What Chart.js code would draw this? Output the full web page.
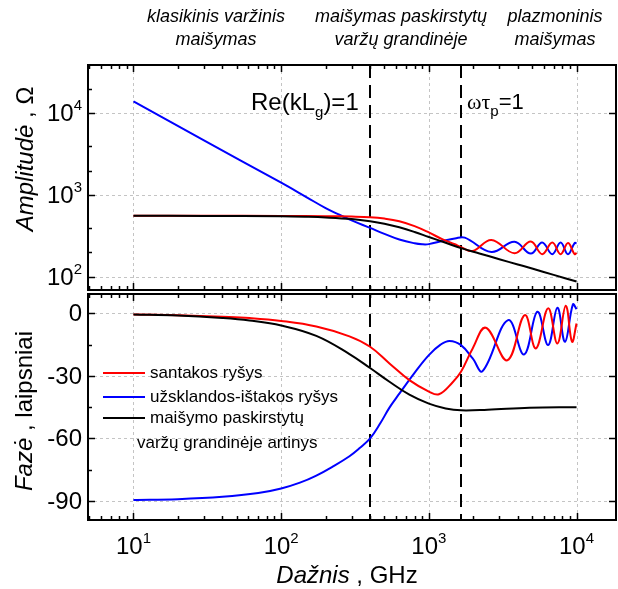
<!DOCTYPE html>
<html>
<head>
<meta charset="utf-8">
<script src="https://cdn.jsdelivr.net/npm/chart.js@4.4.0/dist/chart.umd.min.js"></script>
<style>
html, body { margin: 0; padding: 0; background: #fff; }
#wrap { position: relative; width: 618px; height: 589px; overflow: hidden; font-family: 'Liberation Sans', Arial, sans-serif; color: #000; }
canvas { position: absolute; left: 0; }
.t { position: absolute; white-space: nowrap; }
.hdr { position: absolute; width: 220px; text-align: center; font-size: 18px; line-height: 23px; font-style: italic; }
.sub { font-size: 15px; position: relative; top: 7px; }
.leg { position: absolute; font-size: 17px; line-height: 20px; white-space: nowrap; }
.legline { position: absolute; width: 42px; height: 0; border-top: 2px solid; }
.ytitle { position: absolute; font-size: 24px; white-space: nowrap; transform: translate(-50%, -50%) rotate(-90deg); }
</style>
</head>
<body>
<div id="wrap">
  <canvas id="amp" width="618" height="292" style="top:0"></canvas>
  <canvas id="faze" width="618" height="297" style="top:292px"></canvas>

  <div class="hdr" style="left:106px; top:5px">klasikinis varžinis<br>maišymas</div>
  <div class="hdr" style="left:291px; top:5px">maišymas paskirstytų<br>varžų grandinėje</div>
  <div class="hdr" style="left:445px; top:5px">plazmoninis<br>maišymas</div>

  <div class="t" style="left:251px; top:88px; font-size:24px">Re(kL<span class="sub">g</span>)=1</div>
  <div class="t" style="left:467px; top:89px; font-size:22px"><span style="font-family:'Liberation Serif',serif">ωτ</span><span class="sub">p</span>=1</div>

  <div class="ytitle" style="left:25px; top:159px"><i>Amplitudė</i> , Ω</div>
  <div class="ytitle" style="left:24px; top:411px"><i>Fazė</i> , laipsniai</div>
  <div class="t" style="left:347px; top:575px; font-size:24px; transform:translate(-50%,-50%)"><i>Dažnis</i> , GHz</div>

  <div class="legline" style="left:103px; top:372px; border-color:#ff0000"></div>
  <div class="leg" style="left:150px; top:363px">santakos ryšys</div>
  <div class="legline" style="left:103px; top:396px; border-color:#0000ff"></div>
  <div class="leg" style="left:150px; top:387px">užsklandos-ištakos ryšys</div>
  <div class="legline" style="left:103px; top:417px; border-color:#000"></div>
  <div class="leg" style="left:150px; top:408px">maišymo paskirstytų</div>
  <div class="leg" style="left:137px; top:433px">varžų grandinėje artinys</div>
</div>

<script>
// Dažnis, GHz
var xMajor = [10, 100, 1000, 10000];
var markers = [400, 1650];          // Re(kLg)=1 ir ωτp=1
var ampTicks = [100, 1000, 10000];
var ampMinor = [200, 400, 2000, 4000, 20000];
var phaseTicks = [0, -30, -60, -90];
var phaseMinor = [-15, -45, -75];

// Amplitudė, Ω
var redAmpF  = [10, 30, 100, 200, 300, 400, 500, 631, 800, 1000, 1240, 1500, 1650, 1980, 2650, 3800, 4900, 5850, 6850, 7800, 8750, 9700, 10000];
var redAmp   = [560, 559, 557, 553, 547, 538, 518, 480, 418, 350, 288, 251, 232, 208, 284, 195, 271, 190, 263, 190, 260, 190, 198];
var blueAmpF = [10, 30, 100, 150, 200, 250, 300, 400, 500, 631, 800, 900, 1000, 1240, 1500, 1750, 2650, 3800, 4900, 5850, 6850, 7800, 8750, 9700, 10000];
var blueAmp  = [14000, 4670, 1420, 935, 695, 572, 492, 398, 337, 287, 258, 251, 252, 276, 296, 303, 202, 269, 193, 263, 190, 263, 190, 260, 258];
var blackAmpF = [10, 30, 100, 150, 200, 300, 400, 500, 631, 800, 1000, 1300, 1650, 2200, 3000, 4000, 5000, 7000, 10000];
var blackAmp  = [560, 558, 552, 544, 534, 510, 480, 448, 405, 355, 308, 262, 225, 194, 165, 142, 127, 106, 88];

// Fazė, laipsniai
var redPhF = [10, 20, 40, 61, 100, 173, 290, 400, 541, 738, 1000, 1170, 1450, 1650, 1980, 2430, 3400, 4460, 5300, 6420, 7420, 8450, 9320, 10000];
var redPh  = [-0.5, -0.9, -1.6, -2.2, -3.6, -6.3, -11, -16, -24, -32, -37.5, -38.8, -33, -28, -16.8, -6.9, -22.5, -0.8, -16.8, 2.4, -14.4, 3.7, -13.6, -4.8];
var bluePhF = [10, 20, 40, 70, 100, 134, 173, 223, 290, 340, 400, 470, 541, 631, 800, 1000, 1200, 1380, 1650, 1980, 2310, 3440, 4410, 5430, 6420, 7420, 8350, 9450, 10000];
var bluePh  = [-89.5, -89.1, -88, -86.2, -84, -81.2, -77.8, -73.5, -68.5, -64.6, -60, -52.6, -45.2, -38.5, -28.5, -20, -15, -13.2, -15.2, -21.6, -27.7, -3.2, -19.7, 0.8, -15.2, 2.7, -13.6, 4.3, 2];
var blackPhF = [10, 20, 40, 61, 100, 173, 290, 400, 541, 738, 1000, 1300, 1650, 2500, 4800, 10000];
var blackPh  = [-0.5, -1, -2.2, -3.4, -5.8, -10.8, -19.5, -26.2, -32.8, -39, -43.3, -45.6, -46.5, -46.2, -45.3, -45];

function pts(f, v) {
	return f.map(function(x, i) { return { x: x, y: v[i] }; });
}

function line(ctx, x1, y1, x2, y2) {
	ctx.beginPath();
	ctx.moveTo(x1, y1);
	ctx.lineTo(x2, y2);
	ctx.stroke();
}

// "10" su laipsnio rodikliu
function drawPow(ctx, exp, px, py, align) {
	ctx.font = '24px "Liberation Sans", Arial, sans-serif';
	var wb = ctx.measureText('10').width;
	ctx.font = '15px "Liberation Sans", Arial, sans-serif';
	var we = ctx.measureText(String(exp)).width;
	var left = align === 'right' ? px - wb - we : px - (wb + we) / 2;
	ctx.textBaseline = 'middle';
	ctx.textAlign = 'left';
	ctx.font = '24px "Liberation Sans", Arial, sans-serif';
	ctx.fillText('10', left, py + 1);
	ctx.font = '15px "Liberation Sans", Arial, sans-serif';
	ctx.fillText(String(exp), left + wb, py - 7);
}

var panelPlugin = {
	id: 'panel',
	beforeDatasetsDraw: function(chart, args, opts) {
		var ctx = chart.ctx, a = chart.chartArea, x = chart.scales.x, y = chart.scales.y;
		ctx.save();
		ctx.lineWidth = 1;
		ctx.strokeStyle = '#c4c4c4';
		ctx.setLineDash([3, 3]);
		xMajor.forEach(function(v) {
			var px = Math.round(x.getPixelForValue(v)) + 0.5;
			line(ctx, px, a.top, px, a.bottom);
		});
		opts.yMajor.forEach(function(v) {
			var py = Math.round(y.getPixelForValue(v)) + 0.5;
			line(ctx, a.left, py, a.right, py);
		});
		ctx.strokeStyle = '#000';
		ctx.lineWidth = 2;
		ctx.setLineDash([13, 7]);
		markers.forEach(function(v) {
			var px = Math.round(x.getPixelForValue(v));
			line(ctx, px, a.top, px, a.bottom);
		});
		ctx.restore();
	},
	afterDatasetsDraw: function(chart, args, opts) {
		var ctx = chart.ctx, a = chart.chartArea, x = chart.scales.x, y = chart.scales.y;
		ctx.save();
		ctx.strokeStyle = '#000';
		ctx.fillStyle = '#000';
		ctx.lineWidth = 1.5;
		// x padalos, į vidų
		for (var d = 1; d <= 10000; d *= 10) {
			for (var m = 1; m <= 9; m++) {
				var v = m * d;
				if (v < x.min || v > x.max) continue;
				var px = Math.round(x.getPixelForValue(v)) + 0.5;
				var len = m === 1 ? 7 : 4;
				line(ctx, px, a.bottom, px, a.bottom - len);
				line(ctx, px, a.top, px, a.top + len);
			}
		}
		// y padalos
		opts.yMajor.forEach(function(v) {
			var py = Math.round(y.getPixelForValue(v)) + 0.5;
			line(ctx, a.left, py, a.left + 7, py);
			line(ctx, a.right, py, a.right - 7, py);
		});
		opts.yMinor.forEach(function(v) {
			if (v < y.min || v > y.max) return;
			var py = Math.round(y.getPixelForValue(v)) + 0.5;
			line(ctx, a.left, py, a.left + 4, py);
		});
		// rėmelis
		ctx.lineWidth = 2;
		ctx.strokeRect(a.left, a.top, a.right - a.left, a.bottom - a.top);
		// y žymės
		opts.yMajor.forEach(function(v) {
			var py = y.getPixelForValue(v);
			if (opts.logY) {
				drawPow(ctx, Math.round(Math.log10(v)), 82, py, 'right');
			} else {
				ctx.font = '24px "Liberation Sans", Arial, sans-serif';
				ctx.textAlign = 'right';
				ctx.textBaseline = 'middle';
				ctx.fillText(String(v), 82, py + 1);
			}
		});
		// x žymės
		if (opts.xLabels) {
			xMajor.forEach(function(v) {
				drawPow(ctx, Math.round(Math.log10(v)), x.getPixelForValue(v), a.bottom + 26, 'center');
			});
		}
		ctx.restore();
	}
};

var xScale = {
	type: 'logarithmic',
	min: 4.92,
	max: 18500,
	grid: { display: false, drawTicks: false },
	border: { display: false },
	ticks: { display: false }
};

function series(label, color, f, v) {
	return {
		label: label,
		data: pts(f, v),
		borderColor: color,
		borderWidth: 2,
		pointRadius: 0,
		fill: false,
		tension: 0.4
	};
}

var grafikasAmp = new Chart(document.getElementById('amp').getContext('2d'), {
	type: 'line',
	data: {
		datasets: [
			series('maišymo paskirstytų varžų grandinėje artinys', '#000000', blackAmpF, blackAmp),
			series('santakos ryšys', '#ff0000', redAmpF, redAmp),
			series('užsklandos-ištakos ryšys', '#0000ff', blueAmpF, blueAmp)
		]
	},
	options: {
		responsive: false,
		animation: false,
		layout: { padding: { left: 88, top: 65, right: 2, bottom: 2 } },
		scales: {
			x: xScale,
			y: {
				type: 'logarithmic',
				min: 69.3,
				max: 39000,
				grid: { display: false, drawTicks: false },
				border: { display: false },
				ticks: { display: false }
			}
		},
		plugins: {
			legend: { display: false },
			tooltip: { enabled: false },
			panel: { yMajor: ampTicks, yMinor: ampMinor, logY: true, xLabels: false }
		}
	},
	plugins: [panelPlugin]
});

var grafikasFaze = new Chart(document.getElementById('faze').getContext('2d'), {
	type: 'line',
	data: {
		datasets: [
			series('maišymo paskirstytų varžų grandinėje artinys', '#000000', blackPhF, blackPh),
			series('santakos ryšys', '#ff0000', redPhF, redPh),
			series('užsklandos-ištakos ryšys', '#0000ff', bluePhF, bluePh)
		]
	},
	options: {
		responsive: false,
		animation: false,
		layout: { padding: { left: 88, top: 2, right: 2, bottom: 69 } },
		scales: {
			x: xScale,
			y: {
				type: 'linear',
				min: -99.1,
				max: 9.3,
				grid: { display: false, drawTicks: false },
				border: { display: false },
				ticks: { display: false }
			}
		},
		plugins: {
			legend: { display: false },
			tooltip: { enabled: false },
			panel: { yMajor: phaseTicks, yMinor: phaseMinor, logY: false, xLabels: true }
		}
	},
	plugins: [panelPlugin]
});
</script>
</body>
</html>
